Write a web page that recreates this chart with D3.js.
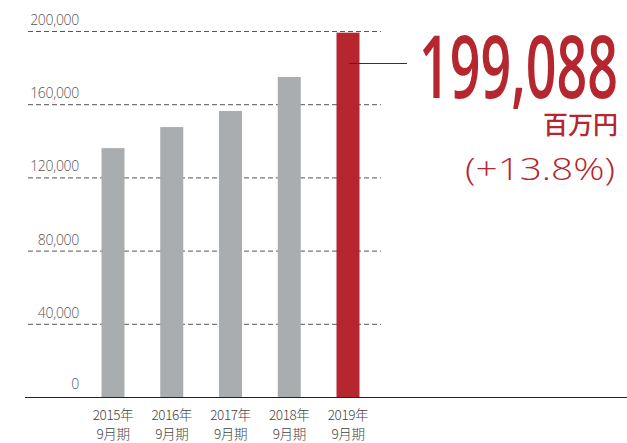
<!DOCTYPE html>
<html>
<head>
<meta charset="utf-8">
<script src="https://cdn.jsdelivr.net/npm/d3@7"></script>
<style>
  html, body { margin: 0; padding: 0; background: #fff; }
  svg { display: block; }
</style>
</head>
<body>
<div id="chart"></div>
<script>
// data
const years = ["2015年", "2016年", "2017年", "2018年", "2019年"]
const periods = ["9月期", "9月期", "9月期", "9月期", "9月期"]
const sales = [136000, 147500, 156300, 174900, 199088]
const yTicks = [0, 40000, 80000, 120000, 160000, 200000]
const headline = "199,088"
const unitLabel = "百万円"
const growthLabel = "(+13.8%)"

const W = 627, H = 443
const red = "#b5262f"
const grey = "#a9adb0"

const svg = d3.select("#chart").append("svg")
    .attr("width", W)
    .attr("height", H)

const x = d3.scalePoint().domain(years).range([113, 348])
const y = d3.scaleLinear().domain([0, 200000]).range([397, 31])
const barW = 23

// dashed grid
const grid = svg.append("g").attr("class", "grid")
grid.selectAll("line")
    .data(yTicks.filter(d => d > 0))
    .enter()
    .append("line")
    .attr("x1", 28)
    .attr("x2", 381)
    .attr("y1", d => y(d) + 0.5)
    .attr("y2", d => y(d) + 0.5)
    .attr("stroke", "#555")
    .attr("stroke-width", 1)
    .attr("stroke-dasharray", "5,3")

// tick labels
grid.selectAll("text")
    .data(yTicks)
    .enter()
    .append("text")
    .attr("x", 79)
    .attr("y", d => d === 0 ? y(d) - 8 : y(d) - 6)
    .attr("text-anchor", "end")
    .attr("font-family", "'Open Sans', sans-serif")
    .attr("font-weight", 300)
    .attr("font-size", 14)
    .attr("fill", "#555")
    .attr("letter-spacing", -0.3)
    .text(d => d3.format(",")(d))

// bars
svg.append("g").selectAll("rect")
    .data(sales)
    .enter()
    .append("rect")
    .attr("x", (d, i) => x(years[i]) - barW / 2)
    .attr("y", d => y(d))
    .attr("width", barW)
    .attr("height", d => y(0) - y(d))
    .attr("fill", (d, i) => i === sales.length - 1 ? red : grey)

// baseline
svg.append("line")
    .attr("x1", 25).attr("x2", W)
    .attr("y1", y(0) + 0.5).attr("y2", y(0) + 0.5)
    .attr("stroke", "#222")
    .attr("stroke-width", 1.2)

// x labels
const xl = svg.append("g")
    .attr("font-family", "'Noto Sans CJK JP', sans-serif")
    .attr("font-weight", 300)
    .attr("font-size", 13.5)
    .attr("fill", "#444")
    .attr("text-anchor", "middle")
xl.selectAll("text.yr")
    .data(years)
    .enter()
    .append("text")
    .attr("class", "yr")
    .attr("x", d => x(d))
    .attr("y", 420)
    .attr("letter-spacing", -0.4)
    .text(d => d)
xl.selectAll("text.pd")
    .data(periods)
    .enter()
    .append("text")
    .attr("class", "pd")
    .attr("x", (d, i) => x(years[i]))
    .attr("y", 439)
    .attr("letter-spacing", -0.4)
    .text(d => d)

// callout
const lastX = x(years[years.length - 1])
svg.append("line")
    .attr("x1", lastX + 1).attr("x2", 407)
    .attr("y1", 63.5).attr("y2", 63.5)
    .attr("stroke", "#333")
    .attr("stroke-width", 1)

svg.append("text")
    .attr("x", 419)
    .attr("y", 98)
    .attr("font-family", "'Open Sans', sans-serif")
    .attr("font-weight", 600)
    .attr("font-size", 87)
    .attr("fill", red)
    .attr("textLength", 199)
    .attr("lengthAdjust", "spacingAndGlyphs")
    .text(headline)

svg.append("text")
    .attr("x", 618)
    .attr("y", 134)
    .attr("text-anchor", "end")
    .attr("font-family", "'Noto Sans CJK JP', sans-serif")
    .attr("font-weight", 500)
    .attr("font-size", 25)
    .attr("fill", red)
    .text(unitLabel)

svg.append("text")
    .attr("x", 465)
    .attr("y", 180)
    .attr("font-family", "'Open Sans', sans-serif")
    .attr("font-weight", 300)
    .attr("font-size", 32)
    .attr("fill", red)
    .attr("textLength", 150)
    .attr("lengthAdjust", "spacingAndGlyphs")
    .text(growthLabel)
</script>
</body>
</html>
